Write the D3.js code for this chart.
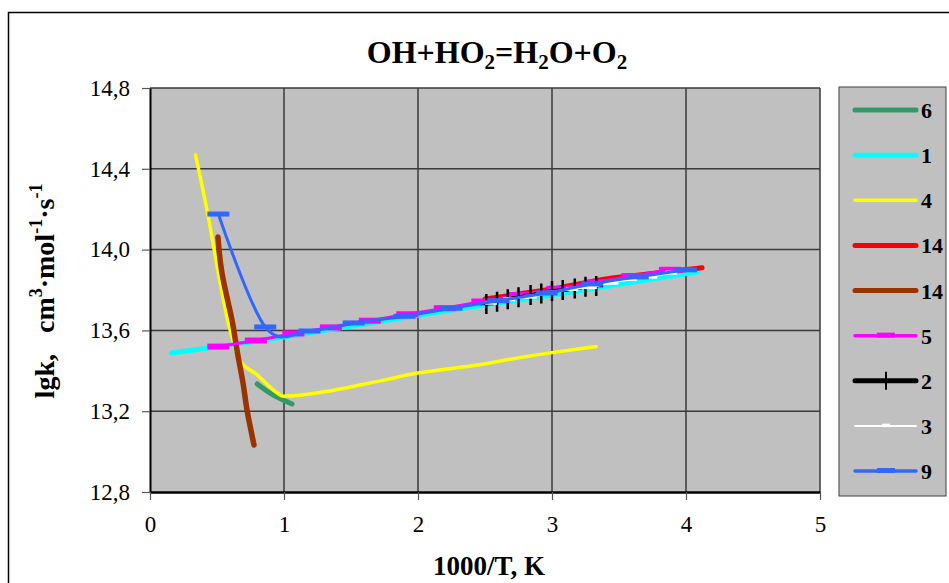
<!DOCTYPE html>
<html><head><meta charset="utf-8">
<script src="https://cdn.jsdelivr.net/npm/d3@7"></script>
<style>
body{margin:0;background:#fff}
svg{display:block}
text{font-family:"Liberation Serif","Times New Roman",serif;fill:#000}
</style></head>
<body><svg id="c" width="949" height="583"></svg>
<script>
// ---- data ----
const xTickValues = [0, 1, 2, 3, 4, 5];
const yTickValues = [12.8, 13.2, 13.6, 14.0, 14.4, 14.8];
const yTickLabels = ["12,8", "13,2", "13,6", "14,0", "14,4", "14,8"];
const seriesLabels = ["6", "1", "4", "14", "14", "5", "2", "3", "9"];

const s6x = [0.80, 0.92, 1.06];
const s6y = [13.335, 13.28, 13.236];

const s1x = [0.16, 1.0, 2.0, 3.0, 4.09];
const s1y = [13.488, 13.567, 13.675, 13.775, 13.89];

const s4x = [0.34, 0.43, 0.51, 0.58, 0.67, 0.80, 0.95, 1.04, 1.34, 1.72, 2.01, 2.46, 2.71, 3.0, 3.33];
const s4y = [14.468, 14.18, 13.884, 13.65, 13.453, 13.38, 13.29, 13.275, 13.30, 13.35, 13.39, 13.43, 13.46, 13.49, 13.52];

const s14ax = [2.5, 2.75, 3.0, 3.4, 3.8, 4.12];
const s14ay = [13.755, 13.78, 13.805, 13.855, 13.885, 13.91];

const s14bx = [0.507, 0.537, 0.612, 0.649, 0.694, 0.724, 0.776];
const s14by = [14.062, 13.884, 13.651, 13.503, 13.34, 13.206, 13.033];

const s5x = [0.51, 0.79, 1.07, 1.35, 1.64, 1.92, 2.2, 2.48, 2.76, 3.04, 3.32, 3.6, 3.88];
const s5y = [13.52, 13.55, 13.585, 13.615, 13.648, 13.68, 13.71, 13.743, 13.775, 13.806, 13.837, 13.869, 13.90];

const s2x = [2.51, 2.59, 2.67, 2.75, 2.84, 2.92, 3.0, 3.08, 3.17, 3.25, 3.33];
const s2y = [13.731, 13.742, 13.754, 13.764, 13.775, 13.783, 13.795, 13.80, 13.808, 13.816, 13.82];

const s3x = [2.545, 2.68, 2.84, 2.99, 3.15, 3.29, 3.45, 3.59, 3.74, 3.89];
const s3y = [13.737, 13.754, 13.767, 13.787, 13.805, 13.814, 13.836, 13.855, 13.866, 13.886];

const s9x = [0.51, 0.86, 1.19, 1.52, 1.90, 2.25, 2.60, 2.96, 3.30, 3.64, 4.00];
const s9y = [14.176, 13.617, 13.597, 13.637, 13.67, 13.71, 13.747, 13.785, 13.83, 13.865, 13.90];

// ---- styles ----
const seriesData = [[s6x,s6y],[s1x,s1y],[s4x,s4y],[s14ax,s14ay],[s14bx,s14by],[s5x,s5y],[s2x,s2y],[s3x,s3y],[s9x,s9y]];
const styles = [
  {color:"#339966", w:5,   marker:null},
  {color:"#00FFFF", w:5,   marker:null},
  {color:"#FFFF00", w:3.5, marker:null},
  {color:"#FF0000", w:5,   marker:null},
  {color:"#993300", w:5.5, marker:null},
  {color:"#FF00FF", w:3,   marker:"bar", mw:22, mh:6},
  {color:"#000000", w:3.5, marker:"plus"},
  {color:"#FFFFFF", w:2,   marker:"bar", mw:12, mh:4},
  {color:"#3366FF", w:3,   marker:"bar", mw:22, mh:5}
];

const svg = d3.select("#c");
const L = 150, R = 820, T = 88, B = 492;
const x = d3.scaleLinear().domain([0, 5]).range([L, R]);
const y = d3.scaleLinear().domain([12.8, 14.8]).range([B, T]);

// outer frame
svg.append("rect").attr("x", 8.5).attr("y", 12.5).attr("width", 980).attr("height", 620)
  .attr("fill", "#fff").attr("stroke", "#000").attr("stroke-width", 1.5);

// plot area
svg.append("rect").attr("x", L).attr("y", T).attr("width", R - L).attr("height", B - T).attr("fill", "#C0C0C0");

// grid
const g = svg.append("g");
g.selectAll(".vg").data(xTickValues.slice(1)).join("line")
  .attr("x1", d => x(d)).attr("x2", d => x(d)).attr("y1", T).attr("y2", B)
  .attr("stroke", "#3a3a3a").attr("stroke-width", 1.5);
g.selectAll(".hg").data(yTickValues.slice(1)).join("line")
  .attr("x1", L).attr("x2", R).attr("y1", d => y(d)).attr("y2", d => y(d))
  .attr("stroke", "#3a3a3a").attr("stroke-width", 1.5);

// axes
const yAxis = d3.axisLeft(y).tickValues(yTickValues).tickFormat((d, i) => yTickLabels[i]).tickSize(8).tickPadding(12).tickSizeOuter(0);
const ya = svg.append("g").attr("transform", `translate(${L},0)`).call(yAxis);
ya.select(".domain").attr("stroke", "#000").attr("stroke-width", 2);
ya.selectAll(".tick line").attr("stroke", "#555").attr("stroke-width", 1.2);
ya.selectAll(".tick text").attr("font-size", 23).attr("font-family", "Liberation Serif").attr("fill", "#000");

const xAxis = d3.axisBottom(x).tickValues(xTickValues).tickFormat(d3.format("d")).tickSize(8).tickPadding(16).tickSizeOuter(0);
const xa = svg.append("g").attr("transform", `translate(0,${B})`).call(xAxis);
xa.select(".domain").attr("stroke", "#000").attr("stroke-width", 2.5);
xa.selectAll(".tick line").attr("stroke", "#555").attr("stroke-width", 1.2);
xa.selectAll(".tick text").attr("font-size", 23).attr("font-family", "Liberation Serif").attr("fill", "#000");

// lines (Excel-like smoothing = uniform Catmull-Rom)
const line = d3.line().x(d => x(d[0])).y(d => y(d[1])).curve(d3.curveCardinal.tension(0));
seriesData.forEach((sd, i) => {
  const st = styles[i];
  const pts = sd[0].map((v, k) => [v, sd[1][k]]);
  svg.append("path").datum(pts).attr("d", line).attr("fill", "none")
    .attr("stroke", st.color).attr("stroke-width", st.w)
    .attr("stroke-linecap", "round").attr("stroke-linejoin", "round");
  if (st.marker === "bar") {
    svg.append("g").selectAll("rect").data(pts).join("rect")
      .attr("x", d => x(d[0]) - st.mw / 2).attr("y", d => y(d[1]) - st.mh / 2)
      .attr("width", st.mw).attr("height", st.mh).attr("fill", st.color);
  } else if (st.marker === "plus") {
    svg.append("g").selectAll("path").data(pts).join("path")
      .attr("transform", d => `translate(${x(d[0])},${y(d[1])})`)
      .attr("d", "M-7,0H7M0,-10V10").attr("stroke", st.color).attr("stroke-width", 2.5).attr("fill", "none");
  }
});

// title
const title = svg.append("text").attr("x", 497).attr("y", 63).attr("text-anchor", "middle")
  .attr("font-size", 32).attr("font-weight", "bold");
title.append("tspan").text("OH+HO");
title.append("tspan").attr("font-size", 21).attr("dy", 6).text("2");
title.append("tspan").attr("dy", -6).text("=H");
title.append("tspan").attr("font-size", 21).attr("dy", 6).text("2");
title.append("tspan").attr("dy", -6).text("O+O");
title.append("tspan").attr("font-size", 21).attr("dy", 6).text("2");

// x axis title
svg.append("text").attr("x", 489).attr("y", 575).attr("text-anchor", "middle")
  .attr("font-size", 27).attr("font-weight", "bold").text("1000/T, K");

// y axis title
const yt = svg.append("text").attr("transform", "translate(54,291) rotate(-90)").attr("text-anchor", "middle")
  .attr("font-size", 28).attr("font-weight", "bold").attr("xml:space", "preserve");
yt.append("tspan").text("lgk,   cm");
yt.append("tspan").attr("font-size", 18).attr("dy", -12).text("3");
yt.append("tspan").attr("dy", 12).text("·mol");
yt.append("tspan").attr("font-size", 18).attr("dy", -12).text("-1");
yt.append("tspan").attr("dy", 12).text("·s");
yt.append("tspan").attr("font-size", 18).attr("dy", -12).text("-1");

// legend
const lg = svg.append("g");
lg.append("rect").attr("x", 839).attr("y", 87).attr("width", 107).attr("height", 409)
  .attr("fill", "#C0C0C0").attr("stroke", "#404040").attr("stroke-width", 1);
const legY = d3.scaleLinear().domain([0, 8]).range([110, 471]);
const legW = [5, 5, 3.5, 5, 5, 3.5, 5, 2, 3.5];
seriesLabels.forEach((lab, i) => {
  const st = styles[i];
  const yy = legY(i);
  lg.append("line").attr("x1", 855).attr("x2", 916).attr("y1", yy).attr("y2", yy)
    .attr("stroke", st.color).attr("stroke-width", legW[i]).attr("stroke-linecap", "round");
  if (st.marker === "bar") {
    const mw = st.mw === 12 ? 8 : 18;
    lg.append("rect").attr("x", 886 - mw / 2).attr("y", yy - (legW[i] + 1.5) / 2 - 0.5)
      .attr("width", mw).attr("height", legW[i] + 1.5).attr("fill", st.color);
  } else if (st.marker === "plus") {
    lg.append("line").attr("x1", 886).attr("x2", 886).attr("y1", yy - 9).attr("y2", yy + 9)
      .attr("stroke", st.color).attr("stroke-width", 2);
  }
  lg.append("text").attr("x", 921).attr("y", yy + 8).attr("font-size", 22).attr("font-weight", "bold").text(lab);
});
</script></body></html>
